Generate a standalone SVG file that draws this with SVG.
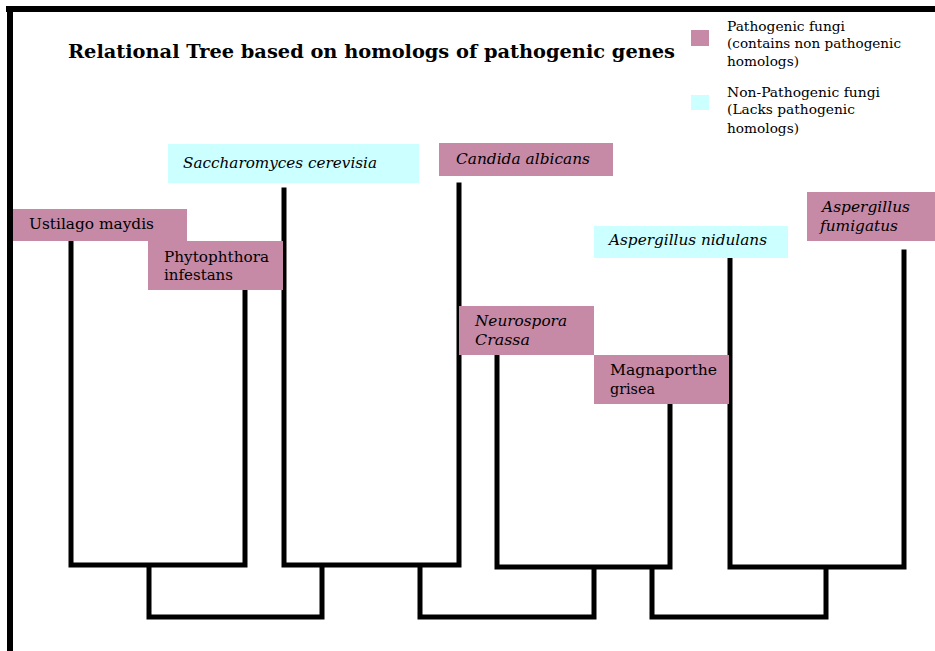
<svg xmlns="http://www.w3.org/2000/svg" width="935" height="651" viewBox="0 0 935 651">
<style>
.patho{fill:#c68aa6}
.nonp{fill:#ccffff}
text{font-family:'DejaVu Serif','Liberation Serif',serif;fill:#000}
.lbl{font-size:15px}
.it{font-style:italic}
.leg{font-size:12.5px}
.title{font-size:19px;font-weight:bold}
.ln{fill:none;stroke:#000;stroke-width:5;stroke-linejoin:miter;stroke-linecap:square}
</style>
<rect x="0" y="0" width="935" height="651" fill="#fff"/>
<g id="frame">
<rect x="6" y="6" width="929" height="6" fill="#000"/>
<rect x="7" y="6" width="6" height="645" fill="#000"/>
</g>
<g id="title">
<text class="title" x="68" y="58" textLength="607" lengthAdjust="spacingAndGlyphs">Relational Tree based on homologs of pathogenic genes</text>
</g>
<g id="legend">
<rect class="patho" x="691" y="30" width="18" height="16"/>
<text class="leg" x="727" y="31" textLength="118" lengthAdjust="spacingAndGlyphs">Pathogenic fungi</text>
<text class="leg" x="727" y="48" textLength="174" lengthAdjust="spacingAndGlyphs">(contains non pathogenic</text>
<text class="leg" x="727" y="66" textLength="72" lengthAdjust="spacingAndGlyphs">homologs)</text>
<rect class="nonp" x="691" y="95" width="18" height="15"/>
<text class="leg" x="727" y="97" textLength="153" lengthAdjust="spacingAndGlyphs">Non-Pathogenic fungi</text>
<text class="leg" x="727" y="114" textLength="128" lengthAdjust="spacingAndGlyphs">(Lacks pathogenic</text>
<text class="leg" x="727" y="133" textLength="72" lengthAdjust="spacingAndGlyphs">homologs)</text>
</g>
<g id="connectors">
<path class="ln" d="M71 241 V565 H245 V290"/>
<path class="ln" d="M284 190 V565 H459 V185"/>
<path class="ln" d="M497 355 V567 H670 V404"/>
<path class="ln" d="M730 258 V567 H904 V252"/>
<path class="ln" d="M149 567 V617 H322 V567"/>
<path class="ln" d="M420 567 V617 H594 V569"/>
<path class="ln" d="M652 569 V617 H826 V569"/>
</g>
<g id="saccharomyces">
<rect class="nonp" x="168" y="144" width="251" height="39"/>
<text class="lbl it" x="183" y="168" textLength="194" lengthAdjust="spacingAndGlyphs">Saccharomyces cerevisia</text>
</g>
<g id="ustilago">
<rect class="patho" x="13" y="209" width="174" height="32"/>
<text class="lbl" x="29" y="229" textLength="125" lengthAdjust="spacingAndGlyphs">Ustilago maydis</text>
</g>
<g id="phytophthora">
<rect class="patho" x="148" y="241" width="135" height="49"/>
<text class="lbl" x="164" y="262" textLength="105" lengthAdjust="spacingAndGlyphs">Phytophthora</text>
<text class="lbl" x="164" y="280" textLength="69" lengthAdjust="spacingAndGlyphs">infestans</text>
</g>
<g id="candida">
<rect class="patho" x="439" y="143" width="174" height="33"/>
<text class="lbl it" x="456" y="164" textLength="134" lengthAdjust="spacingAndGlyphs">Candida albicans</text>
</g>
<g id="neurospora">
<rect class="patho" x="459" y="306" width="135" height="49"/>
<text class="lbl it" x="475" y="326" textLength="92" lengthAdjust="spacingAndGlyphs">Neurospora</text>
<text class="lbl it" x="475" y="345" textLength="55" lengthAdjust="spacingAndGlyphs">Crassa</text>
</g>
<g id="magnaporthe">
<rect class="patho" x="594" y="355" width="135" height="49"/>
<text class="lbl" x="610" y="375" textLength="107" lengthAdjust="spacingAndGlyphs">Magnaporthe</text>
<text class="lbl" x="610" y="394" textLength="45" lengthAdjust="spacingAndGlyphs">grisea</text>
</g>
<g id="nidulans">
<rect class="nonp" x="594" y="226" width="194" height="32"/>
<text class="lbl it" x="609" y="245" textLength="158" lengthAdjust="spacingAndGlyphs">Aspergillus nidulans</text>
</g>
<g id="fumigatus">
<rect class="patho" x="807" y="192" width="128" height="49"/>
<text class="lbl it" x="822" y="212" textLength="88" lengthAdjust="spacingAndGlyphs">Aspergillus</text>
<text class="lbl it" x="820" y="231" textLength="78" lengthAdjust="spacingAndGlyphs">fumigatus</text>
</g>
</svg>
